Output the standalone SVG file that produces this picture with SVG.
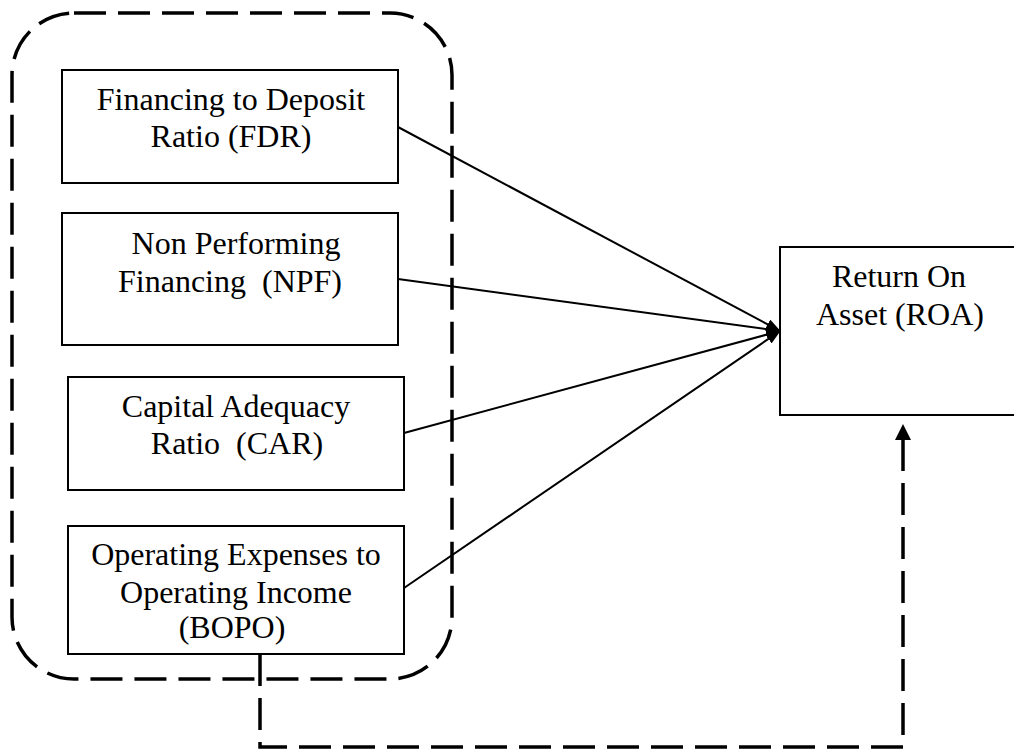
<svg xmlns="http://www.w3.org/2000/svg" width="1014" height="750" viewBox="0 0 1014 750">
<style>
  .box { fill: #fff; stroke: #000; stroke-width: 2; }
  .lbl { font-family: "Liberation Serif", "Times New Roman", serif; font-size: 32px; fill: #000; text-anchor: middle; white-space: pre; }
  .dash { fill: none; stroke: #000; stroke-width: 3.5; stroke-dasharray: 32 12; }
  .link { fill: none; stroke: #000; stroke-width: 2; marker-end: url(#ah); }
</style>
<defs>
  <marker id="ah" markerUnits="userSpaceOnUse" markerWidth="15" markerHeight="11" refX="14" refY="5.5" orient="auto">
    <path d="M0,0 L15,5.5 L0,11 z" fill="#000"/>
  </marker>
  <marker id="ah2" markerUnits="userSpaceOnUse" markerWidth="16" markerHeight="16" refX="8" refY="1" orient="0">
    <path d="M8,0 L16,16 L0,16 z" fill="#000"/>
  </marker>
</defs>
<rect width="1014" height="750" fill="#fff"/>
<g id="group-boundary">
  <rect class="dash" x="12" y="13" width="440" height="666" rx="62" ry="62"/>
</g>
<g id="connectors">
  <line class="link" x1="398" y1="127" x2="780" y2="331"/>
  <line class="link" x1="398" y1="279" x2="780" y2="331"/>
  <line class="link" x1="404" y1="433" x2="780" y2="331"/>
  <line class="link" x1="404" y1="588" x2="780" y2="331"/>
  <path class="dash" d="M260,654 V747 H903 V440"/>
  <path d="M903,424 L911,440 L895,440 z" fill="#000"/>
</g>
<g id="node-fdr">
  <rect class="box" x="62" y="70" width="336" height="113"/>
  <text class="lbl" x="231" y="110">Financing to Deposit</text>
  <text class="lbl" x="231" y="147">Ratio (FDR)</text>
</g>
<g id="node-npf">
  <rect class="box" x="62" y="213" width="336" height="132"/>
  <text class="lbl" x="236" y="254">Non Performing</text>
  <text class="lbl" x="230" y="292">Financing  (NPF)</text>
</g>
<g id="node-car">
  <rect class="box" x="68" y="377" width="336" height="113"/>
  <text class="lbl" x="236" y="417">Capital Adequacy</text>
  <text class="lbl" x="237" y="454">Ratio  (CAR)</text>
</g>
<g id="node-bopo">
  <rect class="box" x="68" y="526" width="336" height="128"/>
  <text class="lbl" x="236" y="565">Operating Expenses to</text>
  <text class="lbl" x="236" y="603">Operating Income</text>
  <text class="lbl" x="232" y="638">(BOPO)</text>
</g>
<g id="node-roa">
  <rect class="box" x="780" y="247" width="245" height="168"/>
  <text class="lbl" x="899" y="287">Return On</text>
  <text class="lbl" x="900" y="325">Asset (ROA)</text>
</g>
</svg>
